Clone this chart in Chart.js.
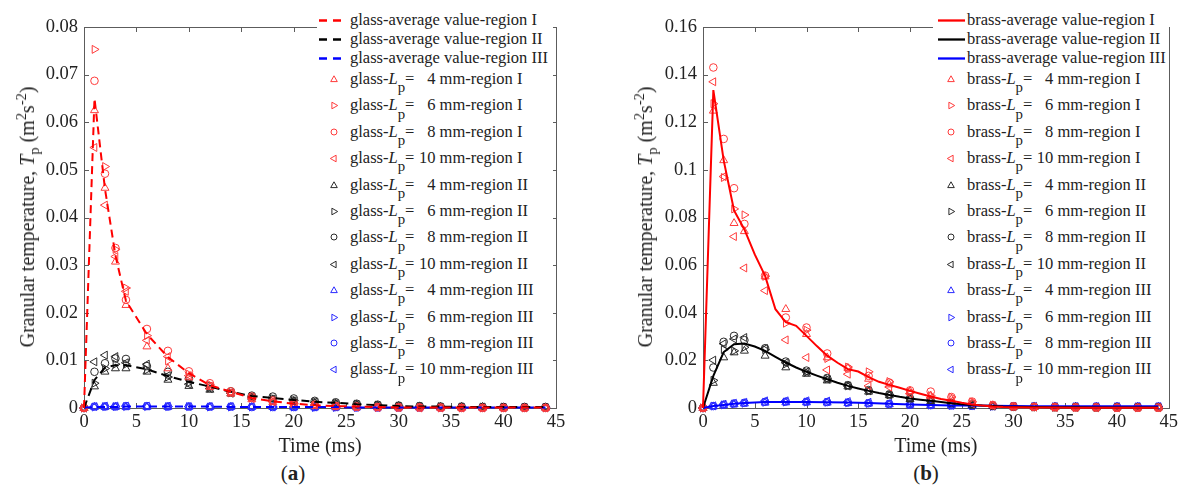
<!DOCTYPE html>
<html>
<head>
<meta charset="utf-8">
<script src="https://cdn.jsdelivr.net/npm/chart.js@4.4.1/dist/chart.umd.min.js"></script>
<style>
  html, body { margin: 0; padding: 0; background: #fff; }
  body { width: 1181px; height: 492px; position: relative; overflow: hidden;
         font-family: "Liberation Serif", "Times New Roman", serif; color: #222; }
  canvas { position: absolute; top: 0; }
  #chartA { left: 0; }
  #chartB { left: 590px; }
  .ytitle { position: absolute; top: 217px; font-size: 20px; white-space: nowrap; line-height: 20px;
            transform: translate(-50%, -50%) rotate(-90deg); }
  .ytitle sub, .ytitle sup { font-size: 72%; line-height: 0; }
  .legend { position: absolute; top: 9px; height: 376px; background: #fff; font-size: 16.5px; }
  .row { position: absolute; left: 0; height: 20px; line-height: 20px; white-space: nowrap; }
  .row svg { position: absolute; top: 0; }
  .row .txt { position: absolute; top: 0; }
  .num { display: inline-block; width: 21px; text-align: right; }
  .sub { font-size: 90%; position: relative; top: 0.55em; }
  .tag { position: absolute; top: 461px; font-size: 21px; transform: translateX(-50%); }
</style>
</head>
<body>
<canvas id="chartA" width="590" height="460"></canvas>
<canvas id="chartB" width="591" height="460"></canvas>
<div class="ytitle" style="left:27px">Granular temperature, <i>T</i><sub>p</sub> (m<sup>2</sup>s<sup>-2</sup>)</div>
<div class="ytitle" style="left:645px">Granular temperature, <i>T</i><sub>p</sub> (m<sup>2</sup>s<sup>-2</sup>)</div>
<div id="legendA" class="legend" style="left:317px; width:236px"></div>
<div id="legendB" class="legend" style="left:933px; width:236px"></div>
<div class="tag" style="left:293px">(<b>a</b>)</div>
<div class="tag" style="left:926px">(<b>b</b>)</div>
<script>
// Tiempos de muestreo (ms)
const times = [0, 1, 2, 3, 4, 6, 8, 10, 12, 14, 16, 18, 20, 22, 24, 26, 28, 30, 32, 34, 36, 38, 40, 42, 44];
const avgTimesB = [0, 1, 2, 3, 4, 5, 6, 7, 8, 9, 10, 11, 12, 13, 14, 15, 16, 17, 18, 19, 20,
                   21, 22, 23, 24, 25, 26, 27, 28, 29, 30, 32, 34, 36, 38, 40, 42, 44];
const xTicks = [0, 5, 10, 15, 20, 25, 30, 35, 40, 45];
const yTicksA = [0, 0.01, 0.02, 0.03, 0.04, 0.05, 0.06, 0.07, 0.08];
const yTicksB = [0, 0.02, 0.04, 0.06, 0.08, 0.1, 0.12, 0.14, 0.16];
const sizes = ['4', '6', '8', '10'];
const regions = ['I', 'II', 'III'];

// (a) vidrio - valores promedio
const glassAvgI = [0, 0.065, 0.046, 0.032, 0.0225, 0.0155, 0.0107, 0.0073, 0.0048, 0.0034, 0.0021, 0.0014, 0.0009, 0.0006, 0.0004, 0.0003, 0.0002, 0.0001, 0.0001, 0.0001, 0.0001, 0.0001, 0.0001, 0.0001, 0.0001];
const glassAvgII = [0, 0.0059, 0.0085, 0.009, 0.009, 0.0081, 0.0067, 0.0055, 0.0045, 0.0034, 0.0025, 0.0021, 0.0017, 0.0013, 0.0011, 0.0008, 0.0006, 0.0004, 0.0003, 0.0003, 0.0002, 0.0002, 0.0002, 0.0002, 0.0002];
const glassAvgIII = [0.0001, 0.0002, 0.0002, 0.0002, 0.0003, 0.0003, 0.0003, 0.0003, 0.0003, 0.0002, 0.0002, 0.0002, 0.0002, 0.0002, 0.0002, 0.0001, 0.0001, 0.0001, 0.0001, 0.0001, 0.0001, 0.0001, 0.0001, 0.0001, 0.0001];

// (a) vidrio - region I
const glass4I = [0, 0.0625, 0.0462, 0.0307, 0.0216, 0.0129, 0.0083, 0.0064, 0.0044, 0.003, 0.0018, 0.0012, 0.0008, 0.0005, 0.0003, 0.0002, 0.0001, 0.0001, 0.0001, 0, 0, 0, 0, 0, 0];
const glass6I = [0, 0.0753, 0.0507, 0.0333, 0.0252, 0.0152, 0.0099, 0.0071, 0.0049, 0.0033, 0.0021, 0.0014, 0.0009, 0.0006, 0.0004, 0.0002, 0.0001, 0.0001, 0.0001, 0, 0, 0, 0, 0, 0];
const glass8I = [0, 0.0687, 0.0492, 0.0336, 0.0227, 0.0166, 0.012, 0.0077, 0.0052, 0.0035, 0.0024, 0.0016, 0.001, 0.0007, 0.0004, 0.0003, 0.0002, 0.0001, 0.0001, 0.0001, 0, 0, 0, 0, 0];
const glass10I = [0, 0.0547, 0.0426, 0.0318, 0.0245, 0.0142, 0.0108, 0.0068, 0.0046, 0.0032, 0.002, 0.0013, 0.0009, 0.0006, 0.0004, 0.0002, 0.0001, 0.0001, 0, 0, 0, 0, 0, 0, 0];

// (a) vidrio - region II
const glass4II = [0, 0.0045, 0.0076, 0.0083, 0.0083, 0.0076, 0.0059, 0.0046, 0.0038, 0.003, 0.0022, 0.0018, 0.0015, 0.0011, 0.0009, 0.0007, 0.0005, 0.0004, 0.0003, 0.0002, 0.0002, 0.0002, 0.0001, 0.0001, 0.0001];
const glass6II = [0, 0.0052, 0.0083, 0.0092, 0.0092, 0.008, 0.0065, 0.0053, 0.0042, 0.0032, 0.0024, 0.002, 0.0016, 0.0012, 0.001, 0.0008, 0.0006, 0.0004, 0.0003, 0.0003, 0.0002, 0.0002, 0.0002, 0.0001, 0.0001];
const glass8II = [0, 0.0076, 0.0094, 0.0104, 0.0103, 0.0088, 0.0076, 0.0062, 0.0046, 0.0035, 0.0026, 0.0024, 0.002, 0.0015, 0.0012, 0.0009, 0.0007, 0.0005, 0.0004, 0.0003, 0.0003, 0.0002, 0.0002, 0.0002, 0.0002];
const glass10II = [0, 0.0097, 0.0111, 0.0108, 0.0095, 0.0092, 0.0068, 0.005, 0.0041, 0.0031, 0.0023, 0.0019, 0.0015, 0.0012, 0.0009, 0.0007, 0.0005, 0.0004, 0.0003, 0.0002, 0.0002, 0.0002, 0.0001, 0.0001, 0.0001];

// (a) vidrio - region III
const glass4III = [0, 0.0002, 0.0002, 0.0002, 0.0002, 0.0002, 0.0002, 0.0002, 0.0002, 0.0002, 0.0002, 0.0002, 0.0001, 0.0001, 0.0001, 0.0001, 0.0001, 0.0001, 0.0001, 0.0001, 0.0001, 0.0001, 0.0001, 0.0001, 0.0001];
const glass6III = [0, 0.0002, 0.0003, 0.0003, 0.0003, 0.0003, 0.0003, 0.0003, 0.0002, 0.0002, 0.0002, 0.0002, 0.0002, 0.0001, 0.0001, 0.0001, 0.0001, 0.0001, 0.0001, 0.0001, 0.0001, 0.0001, 0.0001, 0.0001, 0.0001];
const glass8III = [0, 0.0003, 0.0003, 0.0003, 0.0004, 0.0004, 0.0003, 0.0003, 0.0003, 0.0003, 0.0002, 0.0002, 0.0002, 0.0002, 0.0002, 0.0001, 0.0001, 0.0001, 0.0001, 0.0001, 0.0001, 0.0001, 0.0001, 0.0001, 0.0001];
const glass10III = [0, 0.0003, 0.0004, 0.0004, 0.0004, 0.0004, 0.0004, 0.0003, 0.0003, 0.0003, 0.0003, 0.0002, 0.0002, 0.0002, 0.0002, 0.0002, 0.0001, 0.0001, 0.0001, 0.0001, 0.0001, 0.0001, 0.0001, 0.0001, 0.0001];

// (b) laton - valores promedio
const brassAvgI = [0, 0.1335, 0.104, 0.083, 0.075, 0.0645, 0.0555, 0.0415, 0.036, 0.0345, 0.0303, 0.026, 0.022, 0.019, 0.0163, 0.0153, 0.013, 0.011, 0.0097, 0.0085, 0.0072, 0.006, 0.0048, 0.0038, 0.003, 0.0022, 0.0015, 0.001, 0.0006, 0.0004, 0.0003, 0.0002, 0.0002, 0.0001, 0.0001, 0.0001, 0.0001, 0.0001];
const brassAvgII = [0, 0.0135, 0.0235, 0.0268, 0.0271, 0.0258, 0.024, 0.0215, 0.0191, 0.017, 0.0152, 0.0136, 0.0121, 0.0106, 0.0093, 0.0082, 0.0072, 0.0063, 0.0055, 0.0047, 0.004, 0.0035, 0.003, 0.0025, 0.002, 0.0016, 0.0013, 0.001, 0.0008, 0.0006, 0.0005, 0.0004, 0.0003, 0.0003, 0.0002, 0.0002, 0.0002, 0.0002];
const brassAvgIII = [0, 0.0008, 0.0013, 0.0018, 0.0021, 0.0025, 0.0025, 0.0025, 0.0024, 0.0023, 0.0021, 0.0018, 0.0015, 0.0013, 0.0011, 0.001, 0.0009, 0.0008, 0.0007, 0.0007, 0.0007, 0.0007, 0.0007, 0.0007, 0.0007];

// (b) laton - region I
const brass4I = [0, 0.1248, 0.104, 0.0776, 0.0742, 0.0552, 0.0415, 0.031, 0.0212, 0.0168, 0.0122, 0.0098, 0.007, 0.0052, 0.0036, 0.0022, 0.0011, 0.0006, 0.0004, 0.0003, 0.0002, 0.0002, 0.0001, 0.0001, 0.0001];
const brass6I = [0, 0.1278, 0.0968, 0.0836, 0.0811, 0.0553, 0.0356, 0.0327, 0.0208, 0.0172, 0.0152, 0.0111, 0.0068, 0.0052, 0.0046, 0.0026, 0.0012, 0.0006, 0.0004, 0.0003, 0.0002, 0.0002, 0.0001, 0.0001, 0.0001];
const brass8I = [0, 0.143, 0.113, 0.0923, 0.0773, 0.0556, 0.038, 0.0338, 0.0229, 0.0166, 0.0135, 0.0107, 0.0074, 0.0069, 0.0046, 0.0027, 0.0012, 0.0006, 0.0004, 0.0003, 0.0002, 0.0002, 0.0001, 0.0001, 0.0001];
const brass10I = [0, 0.137, 0.0972, 0.072, 0.0588, 0.0493, 0.0286, 0.0212, 0.016, 0.0142, 0.0093, 0.0088, 0.006, 0.0042, 0.003, 0.0018, 0.001, 0.0006, 0.0004, 0.0002, 0.0002, 0.0001, 0.0001, 0.0001, 0.0001];

// (b) laton - region II
const brass4II = [0, 0.0105, 0.0212, 0.0233, 0.024, 0.0219, 0.017, 0.0143, 0.0115, 0.009, 0.0068, 0.0053, 0.0037, 0.0028, 0.0019, 0.0012, 0.0008, 0.0005, 0.0004, 0.0003, 0.0003, 0.0002, 0.0002, 0.0002, 0.0002];
const brass6II = [0, 0.0116, 0.0245, 0.024, 0.0255, 0.0245, 0.0185, 0.015, 0.0122, 0.0093, 0.0071, 0.0055, 0.004, 0.003, 0.002, 0.0013, 0.0008, 0.0005, 0.0004, 0.0003, 0.0003, 0.0002, 0.0002, 0.0002, 0.0002];
const brass8II = [0, 0.017, 0.0278, 0.0303, 0.0285, 0.0251, 0.0195, 0.0157, 0.0126, 0.0096, 0.0075, 0.0057, 0.0041, 0.0031, 0.0021, 0.0014, 0.0009, 0.0005, 0.0004, 0.0003, 0.0003, 0.0002, 0.0002, 0.0002, 0.0002];
const brass10II = [0, 0.0201, 0.027, 0.029, 0.0296, 0.025, 0.019, 0.0152, 0.0121, 0.0092, 0.0072, 0.0055, 0.004, 0.003, 0.002, 0.0013, 0.0008, 0.0005, 0.0004, 0.0003, 0.0002, 0.0002, 0.0002, 0.0002, 0.0002];

// (b) laton - region III
const brass4III = [0, 0.0006, 0.0011, 0.0015, 0.0018, 0.0022, 0.0023, 0.0023, 0.0022, 0.002, 0.0018, 0.0015, 0.0013, 0.0011, 0.001, 0.0008, 0.0007, 0.0006, 0.0006, 0.0005, 0.0005, 0.0005, 0.0005, 0.0005, 0.0005];
const brass6III = [0, 0.0008, 0.0013, 0.0017, 0.002, 0.0024, 0.0025, 0.0025, 0.0024, 0.0022, 0.0019, 0.0016, 0.0014, 0.0012, 0.001, 0.0009, 0.0007, 0.0006, 0.0006, 0.0005, 0.0005, 0.0005, 0.0005, 0.0005, 0.0005];
const brass8III = [0, 0.0008, 0.0014, 0.0019, 0.0022, 0.0026, 0.0027, 0.0026, 0.0025, 0.0023, 0.002, 0.0017, 0.0014, 0.0012, 0.0011, 0.0009, 0.0008, 0.0007, 0.0006, 0.0006, 0.0006, 0.0006, 0.0006, 0.0006, 0.0006];
const brass10III = [0, 0.0009, 0.0016, 0.002, 0.0024, 0.003, 0.003, 0.003, 0.0029, 0.0027, 0.0024, 0.002, 0.0016, 0.0013, 0.0011, 0.001, 0.0008, 0.0007, 0.0007, 0.0006, 0.0006, 0.0006, 0.0006, 0.0006, 0.0006];

const lineColors = ['#ff0000', '#000000', '#0000ff'];
const markerColors = ['#ff3b3b', '#2b2b2b', '#2a2aff'];
// triangulo arriba, derecha, circulo, izquierda
const markerStyles = [
    { style: 'triangle', rotation: 0 },
    { style: 'triangle', rotation: 90 },
    { style: 'circle', rotation: 0 },
    { style: 'triangle', rotation: 270 }
];
const FONT = "'Liberation Serif', 'Times New Roman', serif";

function pts(xs, ys) {
    return xs.map((x, i) => ({ x: x, y: ys[i] }));
}

// Caja con marcas hacia adentro en los cuatro lados (estilo MATLAB)
const boxPlugin = {
    id: 'box',
    beforeDatasetsDraw(chart) {
        const { ctx, chartArea: a, scales } = chart;
        ctx.save();
        ctx.strokeStyle = '#5c5c5c';
        ctx.lineWidth = 1;
        ctx.strokeRect(Math.round(a.left) + 0.5, Math.round(a.top) + 0.5,
                       Math.round(a.right - a.left), Math.round(a.bottom - a.top));
        ctx.beginPath();
        scales.x.ticks.forEach(t => {
            const px = Math.round(scales.x.getPixelForValue(t.value)) + 0.5;
            ctx.moveTo(px, a.bottom); ctx.lineTo(px, a.bottom - 5);
            ctx.moveTo(px, a.top); ctx.lineTo(px, a.top + 5);
        });
        scales.y.ticks.forEach(t => {
            const py = Math.round(scales.y.getPixelForValue(t.value)) + 0.5;
            ctx.moveTo(a.left, py); ctx.lineTo(a.left + 5, py);
            ctx.moveTo(a.right, py); ctx.lineTo(a.right - 5, py);
        });
        ctx.stroke();
        ctx.restore();
    }
};

function makePanel(id, cfg) {
    const datasets = [];
    cfg.avg.forEach((ys, r) => {
        datasets.push({
            label: cfg.material + '-average value-region ' + regions[r],
            data: pts(r < 2 ? cfg.avgTimes : times, ys),
            showLine: true,
            pointRadius: 0,
            borderColor: lineColors[r],
            borderWidth: 2,
            borderDash: cfg.dash,
            tension: 0,
            clip: false
        });
    });
    cfg.points.forEach((series, k) => {
        const r = Math.floor(k / 4), s = k % 4;
        const m = markerStyles[s];
        datasets.push({
            label: cfg.material + '-Lp = ' + sizes[s] + ' mm-region ' + regions[r],
            data: pts(times, series),
            showLine: false,
            pointStyle: m.style,
            rotation: m.rotation,
            pointRadius: m.style === 'circle' ? 3.8 : 4.6,
            pointBorderWidth: 1,
            borderColor: markerColors[r],
            backgroundColor: 'rgba(0,0,0,0)',
            clip: false
        });
    });

    return new Chart(document.getElementById(id), {
        type: 'scatter',
        data: { datasets: datasets },
        options: {
            responsive: false,
            animation: false,
            layout: { padding: { top: 27, right: cfg.padRight, bottom: 0, left: 0 } },
            plugins: { legend: { display: false }, tooltip: { enabled: false } },
            scales: {
                x: {
                    type: 'linear', min: 0, max: 45,
                    afterBuildTicks: scale => { scale.ticks = xTicks.map(v => ({ value: v })); },
                    afterFit: scale => { scale.height = 52; },
                    grid: { display: false, drawTicks: false },
                    border: { display: false },
                    ticks: { font: { family: FONT, size: 18.5 }, color: '#222', padding: 3, maxRotation: 0 },
                    title: { display: true, text: 'Time (ms)', color: '#222',
                             font: { family: FONT, size: 20 }, padding: { top: 0, bottom: 1 } }
                },
                y: {
                    type: 'linear', min: 0, max: cfg.yMax,
                    afterBuildTicks: scale => { scale.ticks = cfg.yTicks.map(v => ({ value: v })); },
                    afterFit: scale => { scale.width = cfg.yWidth; },
                    grid: { display: false, drawTicks: false },
                    border: { display: false },
                    ticks: { font: { family: FONT, size: 18.5 }, color: '#222', padding: 6,
                             callback: v => String(+v.toFixed(4)) }
                }
            }
        },
        plugins: [boxPlugin]
    });
}

const chartA = makePanel('chartA', {
    material: 'glass', avgTimes: times, dash: [8, 5], yMax: 0.08, yTicks: yTicksA,
    yWidth: 84, padRight: 34,
    avg: [glassAvgI, glassAvgII, glassAvgIII],
    points: [glass4I, glass6I, glass8I, glass10I, glass4II, glass6II, glass8II, glass10II,
             glass4III, glass6III, glass8III, glass10III]
});

const chartB = makePanel('chartB', {
    material: 'brass', avgTimes: avgTimesB, dash: [], yMax: 0.16, yTicks: yTicksB,
    yWidth: 113, padRight: 9,
    avg: [brassAvgI, brassAvgII, brassAvgIII],
    points: [brass4I, brass6I, brass8I, brass10I, brass4II, brass6II, brass8II, brass10II,
             brass4III, brass6III, brass8III, brass10III]
});

// Leyenda HTML (necesita L cursiva con subindice p)
function markerSvg(m, color) {
    let shape;
    if (m.style === 'circle') {
        shape = '<circle cx="5" cy="5" r="3" fill="none" stroke="' + color + '" stroke-width="1"/>';
    } else {
        shape = '<polygon points="5,1.8 8.3,7.6 1.7,7.6" fill="none" stroke="' + color +
                '" stroke-width="1" transform="rotate(' + m.rotation + ' 5 5.5)"/>';
    }
    return '<svg width="10" height="10" viewBox="0 0 10 10">' + shape + '</svg>';
}

function buildLegend(elId, chart, opts) {
    const el = document.getElementById(elId);
    const top = 9;
    let html = '';
    chart.data.datasets.forEach((ds, i) => {
        if (i < 3) {
            const y = [20, 39, 58][i] - top;
            const dash = opts.dashed ? 'stroke-dasharray="8 6"' : '';
            html += '<div class="row" style="top:' + (y - 10) + 'px">' +
                '<svg width="' + (opts.lineX1 + 2) + '" height="20" style="left:0">' +
                '<line x1="' + opts.lineX0 + '" y1="10.5" x2="' + opts.lineX1 + '" y2="10.5" stroke="' +
                ds.borderColor + '" stroke-width="2.3" ' + dash + '/></svg>' +
                '<span class="txt" style="left:' + opts.textX + 'px">' + ds.label + '</span></div>';
        } else {
            const k = i - 3, r = Math.floor(k / 4), s = k % 4;
            const y = 79 + 26.4 * k - top;
            html += '<div class="row" style="top:' + (y - 10) + 'px">' +
                '<span style="position:absolute; left:' + (opts.markerX - 5) + 'px; top:5px; line-height:0">' +
                markerSvg(markerStyles[s], markerColors[r]) + '</span>' +
                '<span class="txt" style="left:' + opts.textX + 'px">' + opts.material +
                '-<i>L</i><span class="sub">p</span>=<span class="num">' + sizes[s] +
                '</span> mm-region ' + regions[r] + '</span></div>';
        }
    });
    el.innerHTML = html;
}

buildLegend('legendA', chartA, { material: 'glass', dashed: true, lineX0: 2, lineX1: 25, markerX: 17, textX: 33 });
buildLegend('legendB', chartB, { material: 'brass', dashed: false, lineX0: 5, lineX1: 32, markerX: 18, textX: 34 });
</script>
</body>
</html>
